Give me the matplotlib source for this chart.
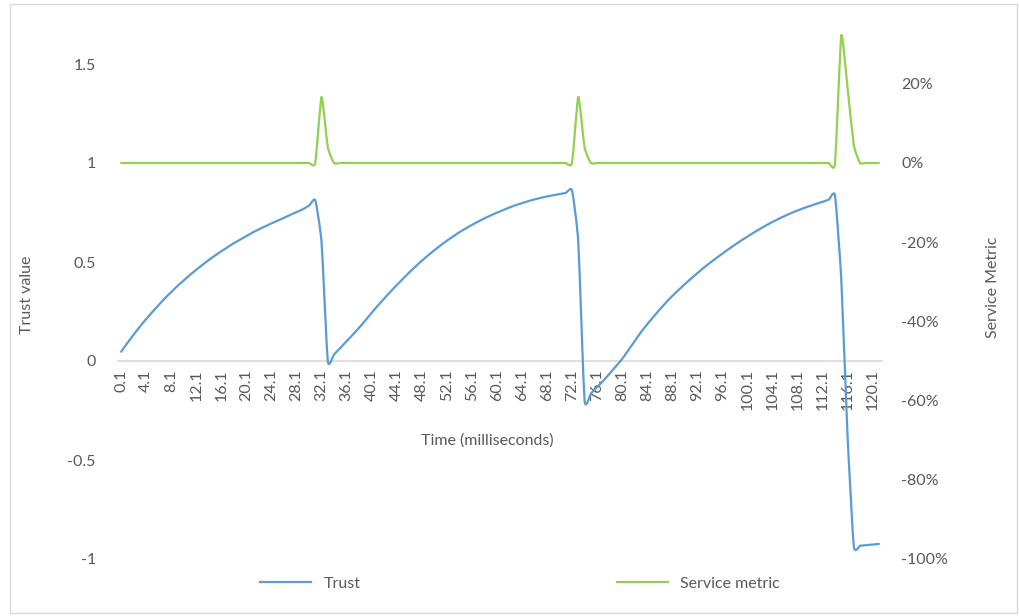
import matplotlib.pyplot as plt
from matplotlib.patches import Rectangle, PathPatch
from matplotlib.path import Path
from matplotlib.lines import Line2D
from matplotlib.ticker import PercentFormatter

plt.rcParams['font.family'] = ['Lato', 'DejaVu Sans']
plt.rcParams['axes.unicode_minus'] = False

# time axis: 0.1, 1.1, ... 121.1 ms
time_labels = [f'{i}.1' for i in range(122)]

trust = [
    0.047, 0.091, 0.133, 0.174, 0.212, 0.248, 0.283, 0.317, 0.348, 0.379,
    0.407, 0.435, 0.461, 0.486, 0.510, 0.533, 0.554, 0.575, 0.595, 0.613,
    0.631, 0.649, 0.665, 0.680, 0.695, 0.709, 0.723, 0.738, 0.752, 0.766,
    0.785, 0.812, 0.600, 0.000, 0.033, 0.066, 0.100, 0.133, 0.168, 0.205,
    0.243, 0.280, 0.315, 0.350, 0.383, 0.415, 0.447, 0.477, 0.506, 0.533,
    0.559, 0.584, 0.607, 0.629, 0.650, 0.669, 0.687, 0.704, 0.720, 0.735,
    0.749, 0.762, 0.775, 0.787, 0.797, 0.807, 0.816, 0.824, 0.831, 0.837,
    0.843, 0.849, 0.862, 0.600, -0.197, -0.165, -0.132, -0.099, -0.064, -0.027,
    0.010, 0.055, 0.100, 0.145, 0.185, 0.223, 0.260, 0.295, 0.328, 0.358,
    0.388, 0.416, 0.443, 0.470, 0.495, 0.519, 0.542, 0.565, 0.587, 0.608,
    0.628, 0.648, 0.667, 0.685, 0.702, 0.718, 0.733, 0.747, 0.760, 0.772,
    0.783, 0.794, 0.804, 0.815, 0.835, 0.410, -0.380, -0.935, -0.933, -0.930,
    -0.927, -0.924,
]

service = [
    0, 0, 0, 0, 0, 0, 0, 0, 0, 0,
    0, 0, 0, 0, 0, 0, 0, 0, 0, 0,
    0, 0, 0, 0, 0, 0, 0, 0, 0, 0,
    0, 0, 0.167, 0.040, 0, 0, 0, 0, 0, 0,
    0, 0, 0, 0, 0, 0, 0, 0, 0, 0,
    0, 0, 0, 0, 0, 0, 0, 0, 0, 0,
    0, 0, 0, 0, 0, 0, 0, 0, 0, 0,
    0, 0, 0, 0.167, 0.040, 0, 0, 0, 0, 0,
    0, 0, 0, 0, 0, 0, 0, 0, 0, 0,
    0, 0, 0, 0, 0, 0, 0, 0, 0, 0,
    0, 0, 0, 0, 0, 0, 0, 0, 0, 0,
    0, 0, 0, 0, 0, 0.322, 0.190, 0.045, 0, 0,
    0, 0,
]

blue = '#5B9BD5'
green = '#92D050'
grey = '#595959'


def smooth_path(xs, ys, tension=0.5):
    # smoothed line: cubic Bezier through every data point
    k = tension / 6
    verts = [(xs[0], ys[0])]
    codes = [Path.MOVETO]
    n = len(xs)
    for i in range(n - 1):
        x0, y0 = xs[max(i - 1, 0)], ys[max(i - 1, 0)]
        x1, y1 = xs[i], ys[i]
        x2, y2 = xs[i + 1], ys[i + 1]
        x3, y3 = xs[min(i + 2, n - 1)], ys[min(i + 2, n - 1)]
        c1 = (x1 + (x2 - x0) * k, y1 + (y2 - y0) * k)
        c2 = (x2 - (x3 - x1) * k, y2 - (y3 - y1) * k)
        verts += [c1, c2, (x2, y2)]
        codes += [Path.CURVE4] * 3
    return Path(verts, codes)


fig = plt.figure(figsize=(10.2, 6.16), dpi=100)
ax = fig.add_axes([118 / 1020, 1 - 559 / 616, 764 / 1020, 544.5 / 616])
ax2 = ax.twinx()

x = list(range(len(time_labels)))
ax.add_patch(PathPatch(smooth_path(x, trust), fill=False, edgecolor=blue,
                       lw=1.6, zorder=3, capstyle='round', joinstyle='round'))
ax2.add_patch(PathPatch(smooth_path(x, service), fill=False, edgecolor=green,
                        lw=1.6, zorder=3, capstyle='round', joinstyle='round'))
l1 = Line2D([], [], color=blue, lw=1.6, label='Trust')
l2 = Line2D([], [], color=green, lw=1.6, label='Service metric')

ax.set_xlim(-0.5, len(x) - 0.5)
ax.set_ylim(-1, 1.75)
ax.set_yticks([-1, -0.5, 0, 0.5, 1, 1.5])
ax.set_yticklabels(['-1', '-0.5', '0', '0.5', '1', '1.5'])
ax2.set_ylim(-1.0, 0.375)
ax2.set_yticks([-1.0, -0.8, -0.6, -0.4, -0.2, 0.0, 0.2])
ax2.yaxis.set_major_formatter(PercentFormatter(1.0, decimals=0))

ax.set_xticks(x[::4])
ax.set_xticklabels(time_labels[::4])

for a in (ax, ax2):
    for s in ('top', 'left', 'right', 'bottom'):
        a.spines[s].set_visible(False)
    a.tick_params(length=0, labelsize=11.5, labelcolor=grey)
ax.spines['bottom'].set_visible(True)
ax.spines['bottom'].set_position(('data', 0))
ax.spines['bottom'].set_color('#D9D9D9')
ax.spines['bottom'].set_linewidth(1.2)
ax.tick_params(axis='y', pad=16)
ax.tick_params(axis='x', pad=6, labelrotation=90)
ax2.tick_params(axis='y', pad=14)
ax.patch.set_visible(False)
ax.set_zorder(ax2.get_zorder() + 1)

fig.text(26.7 / 1020, 1 - 295 / 616, 'Trust value', rotation=90,
         ha='center', va='center', fontsize=11.5, color=grey)
fig.text(993 / 1020, 1 - 287 / 616, 'Service Metric', rotation=90,
         ha='center', va='center', fontsize=11.5, color=grey)
fig.text(487 / 1020, 1 - 441 / 616, 'Time (milliseconds)',
         ha='center', va='center', fontsize=11.5, color=grey)

fig.legend(handles=[l1, l2], loc='center', bbox_to_anchor=(0.51, 1 - 584 / 616),
           ncol=2, frameon=False, fontsize=11.5, handlelength=3.2,
           columnspacing=16, labelcolor=grey)

fig.patches.append(Rectangle((10 / 1020, 3 / 616), 1007 / 1020, 609 / 616,
                             transform=fig.transFigure, fill=False,
                             edgecolor='#D9D9D9', lw=1))

fig.savefig('out.png', dpi=100)
